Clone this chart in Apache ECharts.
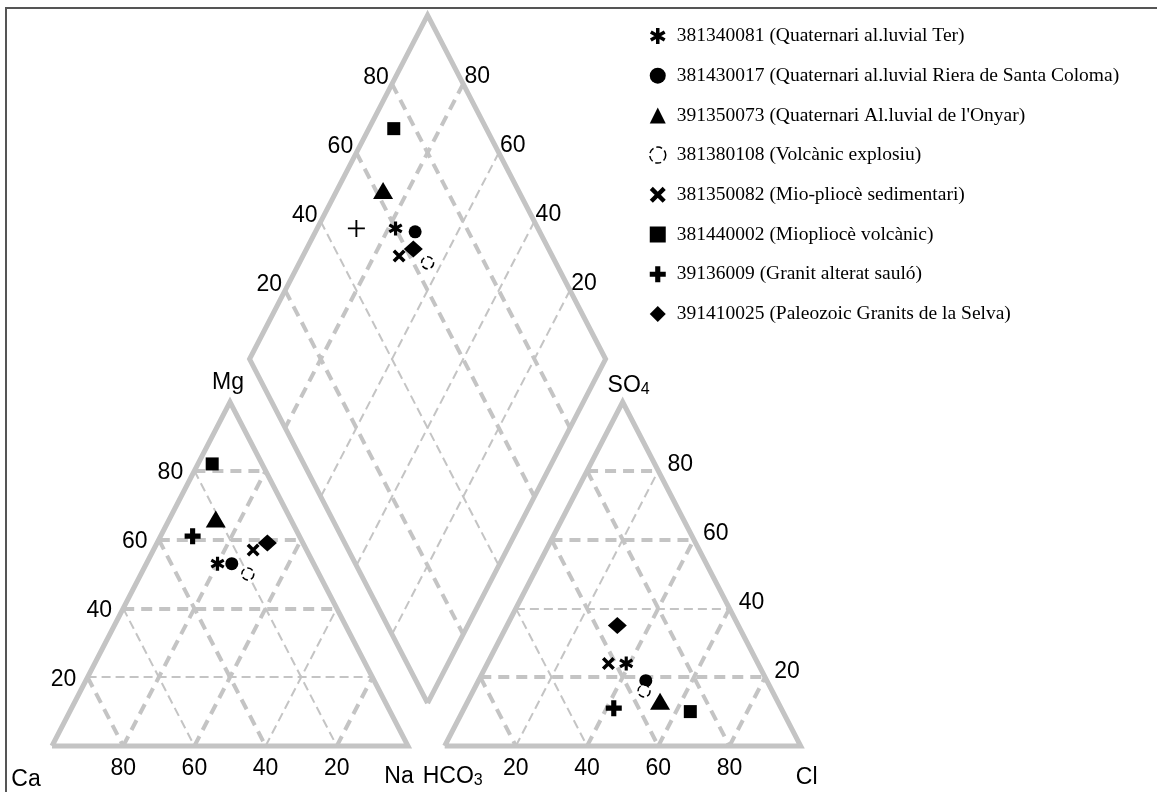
<!DOCTYPE html>
<html>
<head>
<meta charset="utf-8">
<script src="https://cdn.jsdelivr.net/npm/echarts@6/dist/echarts.min.js"></script>
<style>
  html, body { margin: 0; padding: 0; background: #fff; }
  #chart { width: 1157px; height: 792px; }
</style>
</head>
<body>
<div id="chart"></div>
<script>
// samples, in legend order
const sampleNames = [
  '381340081 (Quaternari al.luvial Ter)',
  '381430017 (Quaternari al.luvial Riera de Santa Coloma)',
  "391350073 (Quaternari Al.luvial de l'Onyar)",
  '381380108 (Volcànic explosiu)',
  '381350082 (Mio-pliocè sedimentari)',
  '381440002 (Miopliocè volcànic)',
  '39136009 (Granit alterat sauló)',
  '391410025 (Paleozoic Granits de la Selva)'
];

// cation triangle (%)
const caPct = [27, 23, 21, 20, 15, 14, 30, 10];
const mgPct = [53, 53, 66, 50, 57, 82, 61, 59];
const naPct = [20, 24, 13, 30, 28, 4, 9, 31];

// anion triangle (%)
const hco3Pct = [37, 34, 33, 36, 42, 26, 47, 34];
const so4Pct = [24, 19, 13, 16, 24, 10, 11, 35];
const clPct = [39, 47, 54, 48, 34, 64, 42, 31];

// central diamond (%)
const diamondCaMg = [78, 72, 87, 64, 73, 93, 89, 70];
const diamondSO4Cl = [60, 65, 62, 64, 57, 74, 49, 62];

const tickValues = [20, 40, 60, 80];

// geometry of the diagram (data units, side of a triangle = 100)
const H = Math.sqrt(3) / 2;
const RIGHT_X0 = 110.3;
const DIAMOND_CX = 105.5;
const DIAMOND_Y0 = 10.8;

function leftXY(ca, mg, na) {
  const s = (ca + mg + na) / 100;
  return [(na + mg / 2) / s, mg * H / s];
}
function rightXY(hco3, so4, cl) {
  const s = (hco3 + so4 + cl) / 100;
  return [RIGHT_X0 + (cl + so4 / 2) / s, so4 * H / s];
}
function diamondXY(caMg, so4Cl) {
  const n = (100 - caMg) / 100, h = (100 - so4Cl) / 100;
  return [DIAMOND_CX + 50 * (n - h), DIAMOND_Y0 + 100 * H * (2 - n - h)];
}

// symbols built from bars
function barsPath(angles, halfWidth) {
  let d = '';
  angles.forEach(deg => {
    const a = deg * Math.PI / 180;
    const dx = Math.cos(a), dy = Math.sin(a), px = -dy, py = dx;
    const c = [
      [5 + 5 * dx + halfWidth * px, 5 + 5 * dy + halfWidth * py],
      [5 + 5 * dx - halfWidth * px, 5 + 5 * dy - halfWidth * py],
      [5 - 5 * dx - halfWidth * px, 5 - 5 * dy - halfWidth * py],
      [5 - 5 * dx + halfWidth * px, 5 - 5 * dy + halfWidth * py]
    ];
    d += 'M' + c.map(p => p[0].toFixed(3) + ',' + p[1].toFixed(3)).join('L') + 'Z';
  });
  return 'path://' + d;
}
const asteriskSym = barsPath([90, 30, 150], 1.1);
const crossSym = barsPath([45, 135], 1.2);
const plusBold = barsPath([0, 90], 1.6);
const plusThin = barsPath([0, 90], 0.55);

const symbols = [asteriskSym, 'circle', 'triangle', 'circle', crossSym, 'rect', plusBold, 'diamond'];
const sizes = [14, 13, [20, 17], 12, 13, 13, 16, [19, 17]];
const OPEN_STYLE = { color: '#fff', borderColor: '#000', borderWidth: 1.5, borderType: 'dashed', opacity: 1 };

// outlines and dashed grid
const GRID_COLOR = '#c4c4c4';
const THICK = { color: GRID_COLOR, width: 4, type: [11, 7], opacity: 1 };
const THIN = { color: GRID_COLOR, width: 2, type: [9, 5], opacity: 1 };

const frameLines = [
  { coords: [leftXY(100, 0, 0), leftXY(0, 0, 100), leftXY(0, 100, 0), leftXY(100, 0, 0)] },
  { coords: [rightXY(100, 0, 0), rightXY(0, 0, 100), rightXY(0, 100, 0), rightXY(100, 0, 0)] },
  { coords: [diamondXY(0, 0), diamondXY(0, 100), diamondXY(100, 100), diamondXY(100, 0), diamondXY(0, 0)] }
];

const gridLines = [];
function addLine(p1, p2, thick) {
  gridLines.push({ coords: [p1, p2], lineStyle: thick ? THICK : THIN });
}
const styleMap = {
  leftMg: [false, true, true, true],
  leftCa: [false, true, false, true],
  leftNa: [true, true, false, true],
  rightSO4: [true, false, true, true],
  rightHCO3: [true, true, false, true],
  rightCl: [false, true, true, true],
  diaSO4Cl: [true, false, true, true],
  diaCaMg: [false, false, false, true]
};
tickValues.forEach((t, i) => {
  addLine(leftXY(100 - t, t, 0), leftXY(0, t, 100 - t), styleMap.leftMg[i]);
  addLine(leftXY(t, 100 - t, 0), leftXY(t, 0, 100 - t), styleMap.leftCa[i]);
  addLine(leftXY(100 - t, 0, t), leftXY(0, 100 - t, t), styleMap.leftNa[i]);
  addLine(rightXY(100 - t, t, 0), rightXY(0, t, 100 - t), styleMap.rightSO4[i]);
  addLine(rightXY(t, 100 - t, 0), rightXY(t, 0, 100 - t), styleMap.rightHCO3[i]);
  addLine(rightXY(100 - t, 0, t), rightXY(0, 100 - t, t), styleMap.rightCl[i]);
  addLine(diamondXY(100, t), diamondXY(0, t), styleMap.diaSO4Cl[i]);
  addLine(diamondXY(t, 100), diamondXY(t, 0), styleMap.diaCaMg[i]);
});

// tick labels
const tickLabels = [];
function addLabel(p, text, dx, dy) {
  tickLabels.push({ value: [p[0], p[1], text], label: { offset: [dx, dy] } });
}
tickValues.forEach(t => {
  addLabel(leftXY(100 - t, t, 0), t, -24, 2);
  addLabel(leftXY(t, 0, 100 - t), t, 0, 23);
  addLabel(rightXY(0, t, 100 - t), t, 22, -6);
  addLabel(rightXY(100 - t, 0, t), t, 0, 23);
  addLabel(diamondXY(100, t), t, -16, -6);
  addLabel(diamondXY(t, 100), t, 14, -7);
});
addLabel(leftXY(0, 100, 0), 'Mg', -2, -19);
addLabel(leftXY(100, 0, 0), 'Ca', -26, 34);
addLabel(leftXY(0, 0, 100), 'Na', -9, 31);
addLabel(rightXY(100, 0, 0), 'HCO{s|3}', 8, 31);
addLabel(rightXY(0, 100, 0), 'SO{s|4}', 6, -16);
addLabel(rightXY(0, 0, 100), 'Cl', 6, 32);

const sampleSeries = sampleNames.map((name, i) => {
  const open = i === 3;
  const diamondPoint = { value: diamondXY(diamondCaMg[i], diamondSO4Cl[i]) };
  if (symbols[i] === plusBold) {
    diamondPoint.symbol = plusThin;
    diamondPoint.symbolSize = 17;
  }
  return {
    name: name,
    type: 'scatter',
    z: 5,
    symbol: symbols[i],
    symbolSize: sizes[i],
    itemStyle: open ? OPEN_STYLE : { color: '#000', opacity: 1 },
    data: [
      leftXY(caPct[i], mgPct[i], naPct[i]),
      rightXY(hco3Pct[i], so4Pct[i], clPct[i]),
      diamondPoint
    ]
  };
});

const chart = echarts.init(document.getElementById('chart'), null, { renderer: 'canvas' });
chart.setOption({
  animation: false,
  backgroundColor: '#fff',
  grid: {
    left: 6, top: 8, right: -10, bottom: -10,
    outerBoundsMode: 'none',
    containLabel: false,
    show: true, borderColor: '#555', borderWidth: 2
  },
  xAxis: { type: 'value', min: -12.92, max: 313.2, show: false },
  yAxis: { type: 'value', min: -14.1, max: 185.8, show: false },
  legend: {
    orient: 'vertical',
    left: 644,
    top: 21,
    itemWidth: 16,
    itemHeight: 16,
    itemGap: 19.7,
    selectedMode: false,
    data: sampleNames.map((name, i) => (i === 3 ? { name: name, itemStyle: OPEN_STYLE } : { name: name })),
    textStyle: { fontFamily: 'Liberation Serif', fontSize: 19.5, color: '#000', padding: [0, 0, 0, 6] }
  },
  series: [
    {
      type: 'lines',
      coordinateSystem: 'cartesian2d',
      silent: true,
      z: 2,
      data: gridLines
    },
    {
      type: 'lines',
      coordinateSystem: 'cartesian2d',
      polyline: true,
      silent: true,
      z: 3,
      lineStyle: { color: GRID_COLOR, width: 5, join: 'miter', opacity: 1 },
      data: frameLines
    },
    {
      type: 'scatter',
      silent: true,
      z: 4,
      symbol: 'circle',
      symbolSize: 0.1,
      itemStyle: { color: 'transparent', opacity: 1 },
      label: {
        show: true,
        position: 'inside',
        color: '#000',
        opacity: 1,
        fontFamily: 'Liberation Sans',
        fontSize: 23,
        formatter: p => String(p.value[2]),
        rich: { s: { fontFamily: 'Liberation Sans', fontSize: 16, verticalAlign: 'bottom', lineHeight: 16, color: '#000' } }
      },
      data: tickLabels
    }
  ].concat(sampleSeries)
});
</script>
</body>
</html>
